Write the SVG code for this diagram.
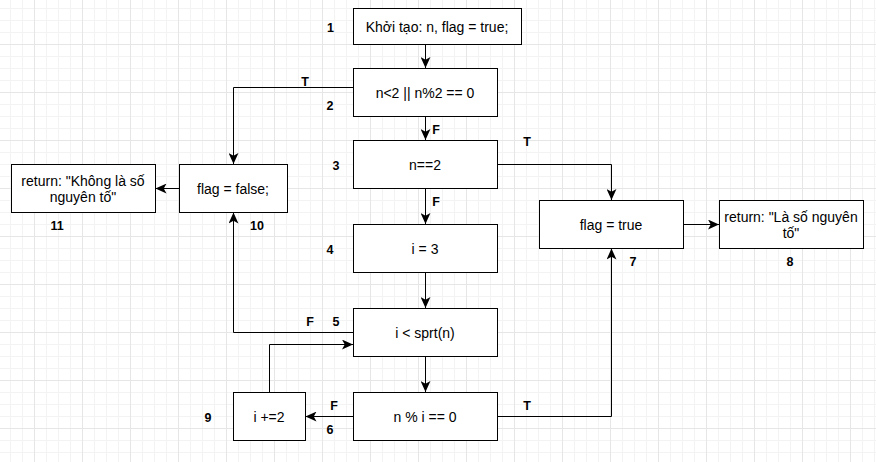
<svg xmlns="http://www.w3.org/2000/svg" width="876" height="462" viewBox="0 0 876 462">
<defs>
<pattern id="grid" patternUnits="userSpaceOnUse" x="-14" y="-4" width="48" height="48">
<path d="M12.5,0V48M24.5,0V48M36.5,0V48M0,12.5H48M0,24.5H48M0,36.5H48" stroke="#f3f3f3" stroke-width="1" fill="none"/>
<path d="M0.5,0V48M0,0.5H48" stroke="#e6e6e6" stroke-width="1" fill="none"/>
</pattern>
<marker id="arr" markerUnits="userSpaceOnUse" markerWidth="11" markerHeight="10" viewBox="0 0 10 9" refX="10" refY="4.5" orient="auto">
<path d="M0,0 L10,4.5 L0,9 L2.5,4.5 Z" fill="#000"/>
</marker>
<style>
.box{fill:#fff;stroke:#000;stroke-width:1}
.t{font-family:"Liberation Sans",Arial,sans-serif;font-size:14px;fill:#000;text-anchor:middle}
.lb{font-family:"Liberation Sans",Arial,sans-serif;font-size:12.5px;font-weight:bold;fill:#000;text-anchor:middle}
.c{fill:none;stroke:#000;stroke-width:1;marker-end:url(#arr)}
</style>
</defs>
<rect x="0" y="0" width="876" height="462" fill="#fff"/>
<rect x="0" y="0" width="876" height="462" fill="url(#grid)"/>

<g id="connectors">
<path class="c" d="M425.5,44.5V68"/>
<path class="c" d="M353,87.5H233.5V164"/>
<path class="c" d="M425.5,116.5V140"/>
<path class="c" d="M497,164.5H611.5V200"/>
<path class="c" d="M425.5,188.5V224"/>
<path class="c" d="M425.5,272.5V308"/>
<path class="c" d="M353,332.5H233.5V212.5"/>
<path class="c" d="M425.5,356.5V392"/>
<path class="c" d="M353,416.5H305.5"/>
<path class="c" d="M269.5,392V344.5H353"/>
<path class="c" d="M497,416.5H611.5V248.5"/>
<path class="c" d="M683,224.5H719"/>
<path class="c" d="M179,188.5H155.5"/>
</g>

<g id="labels">
<text class="lb" x="305" y="85.5">T</text>
<text class="lb" x="436" y="133.5">F</text>
<text class="lb" x="527" y="146">T</text>
<text class="lb" x="436" y="205.5">F</text>
<text class="lb" x="310" y="326">F</text>
<text class="lb" x="334" y="410">F</text>
<text class="lb" x="527" y="410">T</text>
<text class="lb" x="330.5" y="31.5">1</text>
<text class="lb" x="330" y="109.5">2</text>
<text class="lb" x="336" y="169.5">3</text>
<text class="lb" x="330" y="253.5">4</text>
<text class="lb" x="336" y="326">5</text>
<text class="lb" x="330" y="433.5">6</text>
<text class="lb" x="633" y="265.5">7</text>
<text class="lb" x="790" y="265.5">8</text>
<text class="lb" x="208" y="421.5">9</text>
<text class="lb" x="257" y="229.5">10</text>
<text class="lb" x="57" y="229.5">11</text>
</g>

<g id="n1"><rect class="box" x="353.5" y="8.5" width="168" height="36"/><text class="t" x="437" y="32">Khởi tạo: n, flag = true;</text></g>
<g id="n2"><rect class="box" x="353.5" y="68.5" width="144" height="48"/><text class="t" x="425" y="98">n&lt;2 || n%2 == 0</text></g>
<g id="n3"><rect class="box" x="353.5" y="140.5" width="144" height="48"/><text class="t" x="425" y="170">n==2</text></g>
<g id="n4"><rect class="box" x="353.5" y="224.5" width="144" height="48"/><text class="t" x="425" y="254">i = 3</text></g>
<g id="n5"><rect class="box" x="353.5" y="308.5" width="144" height="48"/><text class="t" x="425" y="338">i &lt; sprt(n)</text></g>
<g id="n6"><rect class="box" x="353.5" y="392.5" width="144" height="48"/><text class="t" x="425" y="422">n % i == 0</text></g>
<g id="n7"><rect class="box" x="539.5" y="200.5" width="144" height="48"/><text class="t" x="611" y="230">flag = true</text></g>
<g id="n8"><rect class="box" x="719.5" y="200.5" width="144" height="48"/><text class="t" x="791" y="221.5">return: "Là số nguyên</text><text class="t" x="791" y="238.3">tố"</text></g>
<g id="n9"><rect class="box" x="233.5" y="392.5" width="72" height="48"/><text class="t" x="269" y="422">i +=2</text></g>
<g id="n10"><rect class="box" x="179.5" y="164.5" width="108" height="48"/><text class="t" x="233" y="194">flag = false;</text></g>
<g id="n11"><rect class="box" x="11.5" y="164.5" width="144" height="48"/><text class="t" x="83" y="185.6">return: "Không là số</text><text class="t" x="83" y="202.4">nguyên tố"</text></g>
</svg>
